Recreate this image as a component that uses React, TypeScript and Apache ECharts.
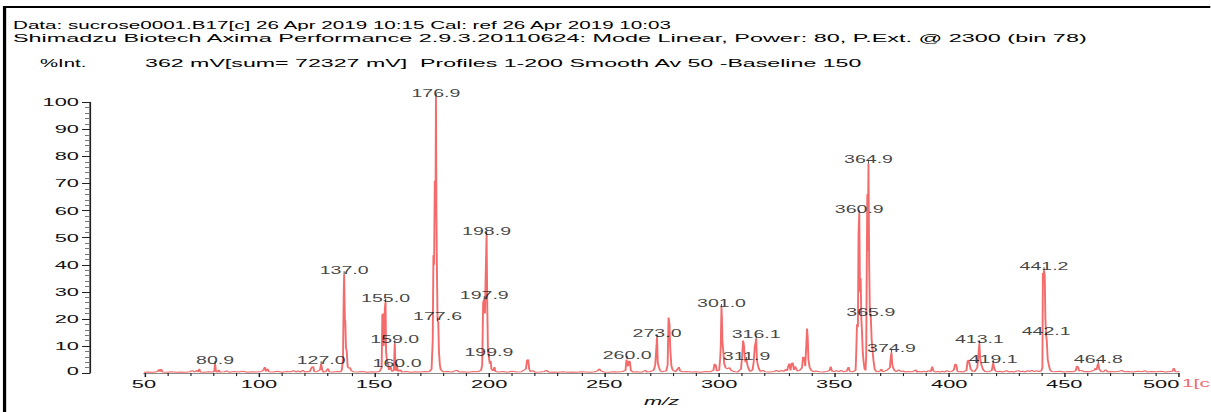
import React, { useEffect, useRef } from "react";
import * as echarts from "echarts";

// ---------- data ----------
const headerLine1 = "Data: sucrose0001.B17[c] 26 Apr 2019 10:15 Cal: ref 26 Apr 2019 10:03";
const headerLine2 =
  "Shimadzu Biotech Axima Performance 2.9.3.20110624: Mode Linear, Power: 80, P.Ext. @ 2300 (bin 78)";
const yAxisTitle = "%Int.";
const infoLine = "362 mV[sum= 72327 mV]  Profiles 1-200 Smooth Av 50 -Baseline 150";
const xAxisTitle = "m/z";
const traceTag = "1[c";

const yTicks = [0, 10, 20, 30, 40, 50, 60, 70, 80, 90, 100];
const xTicks = [50, 100, 150, 200, 250, 300, 350, 400, 450, 500];

// labelled peaks (m/z, %Int)
const peakMz = [80.9, 127.0, 137.0, 155.0, 159.0, 160.0, 176.9, 177.6, 197.9, 198.9, 199.9, 260.0, 273.0, 301.0, 311.9, 316.1, 360.9, 364.9, 365.9, 374.9, 413.1, 419.1, 441.2, 442.1, 464.8];
const peakInt = [3.4, 3.3, 36.5, 26.3, 11.0, 2.3, 102.0, 19.3, 27.3, 51.0, 6.0, 5.2, 13.2, 24.4, 4.8, 12.7, 59.0, 77.3, 20.8, 7.6, 10.9, 3.7, 38.0, 14.0, 3.6];

// spectrum trace (m/z, %Int)
const spectrum: [number, number][] = [
  [50, 0.3], [52, 0.4], [54, 0.3], [56, 0.6], [56.5, 1.4], [57, 0.5], [57.5, 1.5], [58, 0.4], [60, 0.3], [62, 0.5],
  [64, 0.3], [66, 0.4], [68, 0.3], [70, 0.5], [71, 0.9], [72, 0.4], [73, 1.0], [73.5, 0.4], [74, 1.6], [74.5, 0.4],
  [76, 0.3], [78, 0.5], [80, 0.4], [80.5, 0.6], [80.9, 3.4], [81.3, 0.5], [82, 0.4], [82.5, 1.2], [83, 0.4], [85, 0.5],
  [86, 0.8], [87, 0.3], [89, 0.6], [91, 0.4], [93, 0.7], [95, 0.3], [97, 0.5], [99, 0.4], [101, 0.6], [102, 1.2],
  [102.5, 2.2], [103, 0.6], [103.7, 1.6], [104.3, 0.5], [106, 0.4], [108, 0.7], [110, 0.3], [112, 0.6], [114, 0.5], [115, 0.9],
  [116, 0.4], [117, 0.8], [118, 0.4], [119, 1.0], [120, 0.4], [121, 0.6], [122, 0.5], [123, 2.2], [123.6, 2.4], [124, 0.6],
  [125, 0.5], [126.5, 1.2], [127, 3.3], [127.5, 1.1], [128, 0.4], [129, 0.6], [130, 1.7], [130.5, 0.5], [132, 0.4], [134, 0.6],
  [135.5, 0.5], [136, 1.2], [136.5, 5], [136.8, 28], [137, 36.5], [137.3, 20], [137.5, 19], [137.8, 9], [138.1, 8.5], [138.5, 2.5],
  [139, 1.8], [139.5, 2.0], [140, 1.0], [141, 0.5], [143, 0.4], [145, 0.6], [147, 0.3], [149, 0.5], [151, 0.4], [152.5, 0.7],
  [153.3, 2], [153.6, 21.5], [153.9, 22], [154.2, 10], [154.7, 24], [155.0, 26.3], [155.2, 8], [155.5, 5.5], [156, 3.5], [156.5, 1.2],
  [157.2, 2.2], [157.8, 0.6], [158.6, 1.0], [159.0, 11], [159.3, 1.5], [159.7, 0.8], [160.0, 2.3], [160.5, 0.6], [161.5, 1.2], [162, 0.4],
  [164, 0.6], [166, 0.3], [168, 0.5], [170, 0.4], [172, 0.6], [174, 0.5], [175, 1.5], [175.5, 12], [175.8, 43.5], [176.1, 40],
  [176.4, 71], [176.7, 60], [176.9, 102], [177.1, 60], [177.3, 40], [177.6, 19.3], [177.9, 19], [178.2, 8], [178.6, 3], [179, 1.2],
  [180, 0.5], [182, 0.6], [184, 0.4], [185, 0.8], [186, 1.0], [187, 0.4], [189, 0.5], [191, 0.3], [193, 0.6], [195, 0.5],
  [196.5, 1.0], [197, 3], [197.4, 26], [197.9, 27.3], [198.2, 22], [198.5, 35], [198.9, 51], [199.2, 25], [199.5, 8], [199.9, 6],
  [200.3, 3.5], [200.7, 4.5], [201, 1.5], [201.8, 0.8], [202.3, 2.2], [202.8, 0.6], [204, 0.4], [206, 0.6], [208, 0.3], [210, 0.7],
  [212, 0.4], [214, 0.5], [216, 1.5], [216.5, 4.8], [217, 5], [217.4, 1.6], [218, 0.5], [219, 0.9], [220, 0.3], [222, 0.4],
  [224, 0.6], [225, 1.0], [226, 0.3], [228, 0.4], [230, 0.3], [232, 0.5], [234, 0.3], [236, 0.4], [238, 0.3], [240, 0.5],
  [242, 0.4], [244, 0.3], [246, 0.5], [247, 0.8], [248, 1.6], [248.5, 0.8], [250, 0.4], [252, 0.3], [254, 0.5], [256, 0.4],
  [258, 0.6], [259.3, 1.0], [259.7, 5.0], [260.0, 5.2], [260.4, 2.5], [260.8, 4.5], [261.2, 4.2], [261.6, 1.0], [262.5, 0.4], [264, 0.5],
  [266, 0.3], [267.5, 0.8], [268, 1.0], [268.5, 0.4], [270, 0.6], [271.5, 1.0], [272.2, 3], [272.6, 8], [273.0, 13.2], [273.3, 4],
  [273.8, 2.2], [274.3, 1.0], [275, 0.5], [276, 0.7], [277, 0.8], [277.6, 3], [278, 20.5], [278.4, 18], [278.8, 8], [279.2, 3],
  [279.6, 1.5], [280, 1.0], [281, 0.5], [282, 1.6], [282.5, 2.2], [283, 0.8], [284, 0.5], [286, 0.6], [288, 0.4], [290, 0.5],
  [292, 0.3], [294, 0.6], [296, 0.5], [297.5, 1.0], [298, 3.4], [298.5, 3.0], [299, 0.8], [300, 1.0], [300.5, 6], [300.7, 10],
  [301.0, 24.4], [301.2, 20], [301.4, 12], [301.8, 8], [302.2, 3.5], [302.8, 2.0], [303.5, 1.6], [304.5, 2], [305.2, 1.0], [306, 0.7],
  [307, 0.5], [308, 0.4], [309.5, 1.5], [310, 6.5], [310.4, 12], [310.8, 10], [311.2, 5], [311.5, 4.0], [311.9, 4.8], [312.3, 3],
  [312.8, 1.5], [313.5, 0.6], [314.5, 1.2], [315, 4], [315.5, 10], [315.8, 11], [316.1, 12.7], [316.4, 5], [316.8, 3], [317.3, 1.5],
  [318, 0.6], [319, 1.0], [320, 0.5], [322, 0.4], [324, 0.6], [325, 1.0], [326, 0.5], [327, 1.0], [328, 0.6], [329, 1.4],
  [329.5, 0.8], [330, 2.5], [330.5, 3.5], [331, 1.0], [331.5, 3.5], [332, 3.8], [332.5, 1.2], [333, 2.5], [334, 0.8], [335, 1.0],
  [336, 2.0], [336.5, 6], [337, 5.5], [337.4, 2.5], [337.8, 9], [338.2, 16.5], [338.5, 13], [338.8, 5], [339.3, 2.2], [340, 1.0],
  [341, 0.5], [342, 0.8], [343.5, 0.5], [345, 0.4], [347, 0.6], [348, 1.0], [348.5, 2.4], [349, 0.8], [350, 0.5], [351, 0.9],
  [352, 0.5], [353, 1.0], [354, 0.5], [355.5, 0.8], [356.2, 2.2], [356.8, 0.6], [358, 0.5], [359.3, 1.0], [359.6, 8], [359.9, 18],
  [360.3, 17], [360.6, 52], [360.9, 59], [361.2, 30], [361.5, 35], [361.8, 20], [362.1, 15], [362.4, 8], [362.8, 4], [363.2, 1.5],
  [363.6, 1.0], [363.9, 6], [364.2, 45], [364.4, 66], [364.6, 45], [364.9, 77.3], [365.2, 40], [365.5, 22], [365.9, 20.8], [366.3, 12],
  [366.7, 8], [367.1, 4.5], [367.6, 1.5], [368.2, 0.6], [369, 0.5], [370, 0.8], [370.5, 1.5], [371, 0.6], [372, 0.7], [373, 1.2],
  [374.2, 2], [374.6, 6], [374.9, 7.6], [375.2, 3.5], [375.6, 2], [376.2, 1.0], [377, 0.5], [378, 1.2], [379, 0.6], [380, 0.8],
  [381, 0.4], [382, 0.6], [384, 0.5], [385.5, 1.2], [386, 0.4], [387, 0.6], [388, 0.4], [389, 0.7], [390, 0.4], [391, 0.9],
  [392, 0.6], [392.6, 2.4], [393.1, 0.8], [394, 0.4], [395, 0.6], [396, 0.4], [397, 0.7], [398, 0.4], [399, 0.9], [400, 0.5],
  [401, 0.6], [402, 1.2], [402.6, 3.3], [403.1, 3], [403.5, 0.8], [404, 0.5], [405, 0.6], [406, 0.4], [407.5, 1.0], [408, 4.5],
  [408.4, 4.8], [408.8, 3.5], [409.3, 1.5], [410, 0.8], [411, 0.6], [412.2, 2], [412.8, 8], [413.1, 10.9], [413.4, 6], [413.7, 4],
  [414.2, 2.5], [414.8, 1.2], [415.5, 0.6], [416.5, 0.5], [417.5, 0.6], [418.5, 1.0], [419.1, 3.7], [419.5, 2.0], [420, 0.8], [421, 0.5],
  [422, 0.7], [423, 0.4], [424, 0.6], [425, 0.9], [426, 0.4], [427, 0.6], [428, 0.4], [429, 0.7], [430, 0.9], [431, 0.5],
  [432, 0.7], [433, 0.4], [434, 0.9], [435, 0.6], [436, 1.0], [437, 0.5], [438, 0.9], [439, 0.6], [440, 0.8], [440.5, 2],
  [440.7, 37], [441.0, 36], [441.2, 38], [441.5, 36], [441.8, 20], [442.1, 14], [442.4, 12], [442.8, 5], [443.3, 3], [443.8, 1.2],
  [444.5, 0.6], [446, 0.5], [448, 0.7], [450, 0.4], [452, 0.6], [454, 0.5], [455, 0.9], [455.5, 2.6], [456, 2.2], [456.5, 0.8],
  [457.5, 1.0], [458.5, 0.5], [460, 0.6], [461, 0.5], [462, 0.8], [463, 1.0], [463.6, 1.8], [464, 1.2], [464.5, 3.0], [464.8, 3.6],
  [465.2, 1.5], [466, 0.6], [467, 0.5], [468, 1.2], [469, 0.4], [470, 0.6], [472, 0.5], [474, 0.7], [475, 1.0], [476, 0.5],
  [478, 0.6], [480, 0.4], [482, 0.7], [484, 0.5], [485, 0.9], [486, 0.4], [488, 0.6], [490, 0.5], [492, 0.7], [494, 0.4],
  [496, 0.6], [497, 0.7], [497.6, 1.8], [498.2, 0.6], [499, 0.5], [500, 0.6],
];

// ---------- layout (the reference is stretched horizontally) ----------
const S = 1.9;
const W = 1211 / S;
const H = 412;
const hx = (x: number) => x / S;
const FONT = "'Liberation Sans', Arial, sans-serif";
const RED = "#f36b6b";

export default function App() {
  const ref = useRef<HTMLDivElement>(null);

  useEffect(() => {
    if (!ref.current) return;
    const chart = echarts.init(ref.current, undefined, { renderer: "svg" });
    const yMin = yTicks[0];
    const yMax = yTicks[yTicks.length - 1];
    const xMin = xTicks[0];
    const xMax = xTicks[xTicks.length - 1];

    const headerText = (text: string, x: number, y: number, sx: number) => ({
      type: "text",
      x: hx(x),
      y,
      scaleX: sx,
      style: { text, font: `10.7px ${FONT}`, fill: "#000", textVerticalAlign: "middle" },
    });

    chart.setOption({
      animation: false,
      backgroundColor: "#ffffff",
      textStyle: { fontFamily: FONT },
      grid: { left: hx(144), right: hx(31), top: 102.3, bottom: 33.7, containLabel: false },
      xAxis: {
        type: "value",
        min: xMin,
        max: xMax,
        interval: 50,
        name: xAxisTitle,
        nameLocation: "middle",
        nameGap: 19,
        nameTextStyle: { fontFamily: FONT, fontSize: 11.5, fontStyle: "italic", color: "#111" },
        splitLine: { show: false },
        axisLine: { show: true, onZero: false, lineStyle: { color: "#8a8a8a", width: 1 } },
        axisTick: { show: true, length: 4, lineStyle: { color: "#222", width: 0.8 } },
        minorTick: { show: true, splitNumber: 5, length: 3, lineStyle: { color: "#222", width: 0.6 } },
        axisLabel: { fontFamily: FONT, fontSize: 11.5, color: "#111", margin: 5, alignMaxLabel: "right" },
      },
      yAxis: {
        type: "value",
        min: yMin,
        max: yMax,
        interval: 10,
        offset: hx(144 - 90),
        splitLine: { show: false },
        axisLine: { show: true, lineStyle: { color: "#222", width: 0.9 } },
        axisTick: { show: true, length: hx(8), lineStyle: { color: "#222", width: 1 } },
        minorTick: { show: true, splitNumber: 5, length: hx(5), lineStyle: { color: "#777", width: 1 } },
        axisLabel: {
          fontFamily: FONT,
          fontSize: 11.5,
          color: "#111",
          margin: hx(11),
          formatter: (v: number) => (v === 0 ? "{z|0}" : String(v)),
          rich: { z: { fontFamily: FONT, fontSize: 11.5, color: "#111", padding: [0, 0, 4, 0] } },
        },
      },
      series: [
        {
          type: "line",
          data: spectrum,
          showSymbol: false,
          symbol: "none",
          clip: false,
          lineStyle: { color: RED, width: 1 },
          z: 2,
        },
        {
          type: "scatter",
          data: peakMz.map((m, i) => [m, peakInt[i]]),
          symbol: "rect",
          symbolSize: [0.6, 3],
          symbolOffset: [0, -1.5],
          itemStyle: { color: "#333" },
          clip: false,
          z: 5,
          label: {
            show: true,
            position: "top",
            distance: -4,
            fontFamily: FONT,
            fontSize: 10.3,
            color: "#111",
            formatter: (p: any) => p.value[0].toFixed(1),
          },
        },
      ],
      graphic: [
        { type: "line", shape: { x1: 2.4, y1: 6, x2: 2.4, y2: H + 5 }, style: { stroke: "#000", lineWidth: 1.7 } },
        { type: "line", shape: { x1: 1.6, y1: 7, x2: W + 5, y2: 7 }, style: { stroke: "#000", lineWidth: 1.8 } },
        headerText(headerLine1, 13, 25, 1.015),
        headerText(headerLine2, 13, 38, 1.152),
        headerText(yAxisTitle, 40, 63, 1.0),
        headerText(infoLine, 145, 63, 1.14),
        {
          type: "text",
          x: hx(1182),
          y: 383,
          style: { text: traceTag, font: `11px ${FONT}`, fill: RED, textVerticalAlign: "middle" },
        },
      ],
    });

    return () => chart.dispose();
  }, []);

  return (
    <div style={{ position: "absolute", left: 0, top: 0, width: 1211, height: H, overflow: "hidden", background: "#fff" }}>
      <div
        ref={ref}
        style={{ width: W, height: H, transform: `scaleX(${S})`, transformOrigin: "0 0" }}
      />
    </div>
  );
}
